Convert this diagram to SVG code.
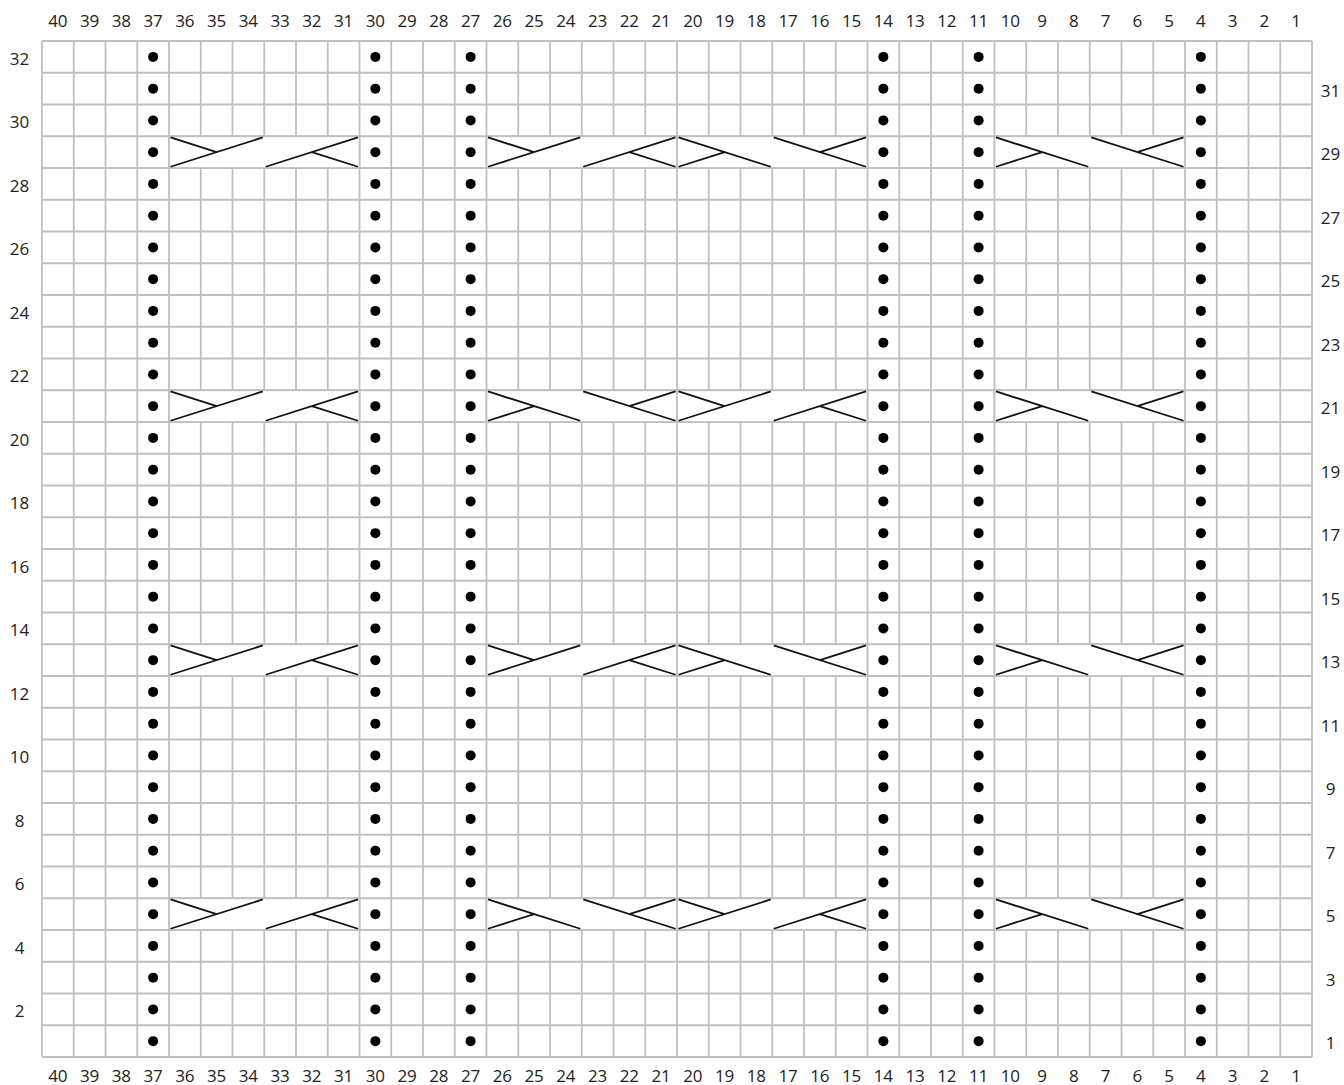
<svg xmlns="http://www.w3.org/2000/svg" xmlns:xlink="http://www.w3.org/1999/xlink" width="1344" height="1085" viewBox="0 0 1344 1085">
<style>
.grid{fill:none;stroke:#c0c0c0;stroke-width:1.8}
.box{fill:#fff;stroke:#c0c0c0;stroke-width:1.8}
.cab{fill:none;stroke:#111;stroke-width:1.8}
.lbl{font-family:"Open Sans","Noto Sans","Liberation Sans",sans-serif;font-size:17px;fill:#222;text-anchor:middle}
</style>
<defs>
<g id="dc">
<circle cx="0" cy="56.875" r="5"/><circle cx="0" cy="88.625" r="5"/><circle cx="0" cy="120.375" r="5"/><circle cx="0" cy="152.125" r="5"/>
<circle cx="0" cy="183.875" r="5"/><circle cx="0" cy="215.625" r="5"/><circle cx="0" cy="247.375" r="5"/><circle cx="0" cy="279.125" r="5"/>
<circle cx="0" cy="310.875" r="5"/><circle cx="0" cy="342.625" r="5"/><circle cx="0" cy="374.375" r="5"/><circle cx="0" cy="406.125" r="5"/>
<circle cx="0" cy="437.875" r="5"/><circle cx="0" cy="469.625" r="5"/><circle cx="0" cy="501.375" r="5"/><circle cx="0" cy="533.125" r="5"/>
<circle cx="0" cy="564.875" r="5"/><circle cx="0" cy="596.625" r="5"/><circle cx="0" cy="628.375" r="5"/><circle cx="0" cy="660.125" r="5"/>
<circle cx="0" cy="691.875" r="5"/><circle cx="0" cy="723.625" r="5"/><circle cx="0" cy="755.375" r="5"/><circle cx="0" cy="787.125" r="5"/>
<circle cx="0" cy="818.875" r="5"/><circle cx="0" cy="850.625" r="5"/><circle cx="0" cy="882.375" r="5"/><circle cx="0" cy="914.125" r="5"/>
<circle cx="0" cy="945.875" r="5"/><circle cx="0" cy="977.625" r="5"/><circle cx="0" cy="1009.375" r="5"/><circle cx="0" cy="1041.125" r="5"/>
</g>
<path id="t1" class="cab" d="M1.5,30.5 L93.75,1.2 M1.5,1.2 L47.625,15.875"/>
<path id="t2" class="cab" d="M1.5,30.5 L93.75,1.2 M47.625,15.875 L93.75,30.5"/>
<path id="t3" class="cab" d="M1.5,1.2 L93.75,30.5 M1.5,30.5 L47.625,15.875"/>
<path id="t4" class="cab" d="M1.5,1.2 L93.75,30.5 M47.625,15.875 L93.75,1.2"/>
</defs>
<rect width="1344" height="1085" fill="#fff"/>
<g id="grid">
<path class="grid" d="M42,41V1057M73.75,41V1057M105.5,41V1057M137.25,41V1057M169,41V1057M200.75,41V1057M232.5,41V1057M264.25,41V1057M296,41V1057M327.75,41V1057M359.5,41V1057M391.25,41V1057M423,41V1057M454.75,41V1057M486.5,41V1057M518.25,41V1057M550,41V1057M581.75,41V1057M613.5,41V1057M645.25,41V1057M677,41V1057M708.75,41V1057M740.5,41V1057M772.25,41V1057M804,41V1057M835.75,41V1057M867.5,41V1057M899.25,41V1057M931,41V1057M962.75,41V1057M994.5,41V1057M1026.25,41V1057M1058,41V1057M1089.75,41V1057M1121.5,41V1057M1153.25,41V1057M1185,41V1057M1216.75,41V1057M1248.5,41V1057M1280.25,41V1057M1312,41V1057"/>
<path class="grid" d="M42,41H1312M42,72.75H1312M42,104.5H1312M42,136.25H1312M42,168H1312M42,199.75H1312M42,231.5H1312M42,263.25H1312M42,295H1312M42,326.75H1312M42,358.5H1312M42,390.25H1312M42,422H1312M42,453.75H1312M42,485.5H1312M42,517.25H1312M42,549H1312M42,580.75H1312M42,612.5H1312M42,644.25H1312M42,676H1312M42,707.75H1312M42,739.5H1312M42,771.25H1312M42,803H1312M42,834.75H1312M42,866.5H1312M42,898.25H1312M42,930H1312M42,961.75H1312M42,993.5H1312M42,1025.25H1312M42,1057H1312"/>
</g>
<g id="cable-boxes">
<rect class="box" x="169" y="136.25" width="190.5" height="31.75"/><rect class="box" x="486.5" y="136.25" width="190.5" height="31.75"/><rect class="box" x="677" y="136.25" width="190.5" height="31.75"/><rect class="box" x="994.5" y="136.25" width="190.5" height="31.75"/>
<rect class="box" x="169" y="390.25" width="190.5" height="31.75"/><rect class="box" x="486.5" y="390.25" width="190.5" height="31.75"/><rect class="box" x="677" y="390.25" width="190.5" height="31.75"/><rect class="box" x="994.5" y="390.25" width="190.5" height="31.75"/>
<rect class="box" x="169" y="644.25" width="190.5" height="31.75"/><rect class="box" x="486.5" y="644.25" width="190.5" height="31.75"/><rect class="box" x="677" y="644.25" width="190.5" height="31.75"/><rect class="box" x="994.5" y="644.25" width="190.5" height="31.75"/>
<rect class="box" x="169" y="898.25" width="190.5" height="31.75"/><rect class="box" x="486.5" y="898.25" width="190.5" height="31.75"/><rect class="box" x="677" y="898.25" width="190.5" height="31.75"/><rect class="box" x="994.5" y="898.25" width="190.5" height="31.75"/>
</g>
<g id="cables">
<use xlink:href="#t1" href="#t1" x="169" y="136.25"/><use xlink:href="#t2" href="#t2" x="264.25" y="136.25"/><use xlink:href="#t1" href="#t1" x="486.5" y="136.25"/><use xlink:href="#t2" href="#t2" x="581.75" y="136.25"/><use xlink:href="#t3" href="#t3" x="677" y="136.25"/><use xlink:href="#t4" href="#t4" x="772.25" y="136.25"/><use xlink:href="#t3" href="#t3" x="994.5" y="136.25"/><use xlink:href="#t4" href="#t4" x="1089.75" y="136.25"/>
<use xlink:href="#t1" href="#t1" x="169" y="390.25"/><use xlink:href="#t2" href="#t2" x="264.25" y="390.25"/><use xlink:href="#t3" href="#t3" x="486.5" y="390.25"/><use xlink:href="#t4" href="#t4" x="581.75" y="390.25"/><use xlink:href="#t1" href="#t1" x="677" y="390.25"/><use xlink:href="#t2" href="#t2" x="772.25" y="390.25"/><use xlink:href="#t3" href="#t3" x="994.5" y="390.25"/><use xlink:href="#t4" href="#t4" x="1089.75" y="390.25"/>
<use xlink:href="#t1" href="#t1" x="169" y="644.25"/><use xlink:href="#t2" href="#t2" x="264.25" y="644.25"/><use xlink:href="#t1" href="#t1" x="486.5" y="644.25"/><use xlink:href="#t2" href="#t2" x="581.75" y="644.25"/><use xlink:href="#t3" href="#t3" x="677" y="644.25"/><use xlink:href="#t4" href="#t4" x="772.25" y="644.25"/><use xlink:href="#t3" href="#t3" x="994.5" y="644.25"/><use xlink:href="#t4" href="#t4" x="1089.75" y="644.25"/>
<use xlink:href="#t1" href="#t1" x="169" y="898.25"/><use xlink:href="#t2" href="#t2" x="264.25" y="898.25"/><use xlink:href="#t3" href="#t3" x="486.5" y="898.25"/><use xlink:href="#t4" href="#t4" x="581.75" y="898.25"/><use xlink:href="#t1" href="#t1" x="677" y="898.25"/><use xlink:href="#t2" href="#t2" x="772.25" y="898.25"/><use xlink:href="#t3" href="#t3" x="994.5" y="898.25"/><use xlink:href="#t4" href="#t4" x="1089.75" y="898.25"/>
</g>
<g id="purl-dots" fill="#000">
<use xlink:href="#dc" href="#dc" x="153.125"/><use xlink:href="#dc" href="#dc" x="375.375"/><use xlink:href="#dc" href="#dc" x="470.625"/><use xlink:href="#dc" href="#dc" x="883.375"/><use xlink:href="#dc" href="#dc" x="978.625"/><use xlink:href="#dc" href="#dc" x="1200.875"/>
</g>
<g id="top-labels">
<text class="lbl" x="57.875" y="27">40</text><text class="lbl" x="89.625" y="27">39</text><text class="lbl" x="121.375" y="27">38</text><text class="lbl" x="153.125" y="27">37</text><text class="lbl" x="184.875" y="27">36</text><text class="lbl" x="216.625" y="27">35</text><text class="lbl" x="248.375" y="27">34</text><text class="lbl" x="280.125" y="27">33</text><text class="lbl" x="311.875" y="27">32</text><text class="lbl" x="343.625" y="27">31</text>
<text class="lbl" x="375.375" y="27">30</text><text class="lbl" x="407.125" y="27">29</text><text class="lbl" x="438.875" y="27">28</text><text class="lbl" x="470.625" y="27">27</text><text class="lbl" x="502.375" y="27">26</text><text class="lbl" x="534.125" y="27">25</text><text class="lbl" x="565.875" y="27">24</text><text class="lbl" x="597.625" y="27">23</text><text class="lbl" x="629.375" y="27">22</text><text class="lbl" x="661.125" y="27">21</text>
<text class="lbl" x="692.875" y="27">20</text><text class="lbl" x="724.625" y="27">19</text><text class="lbl" x="756.375" y="27">18</text><text class="lbl" x="788.125" y="27">17</text><text class="lbl" x="819.875" y="27">16</text><text class="lbl" x="851.625" y="27">15</text><text class="lbl" x="883.375" y="27">14</text><text class="lbl" x="915.125" y="27">13</text><text class="lbl" x="946.875" y="27">12</text><text class="lbl" x="978.625" y="27">11</text>
<text class="lbl" x="1010.375" y="27">10</text><text class="lbl" x="1042.125" y="27">9</text><text class="lbl" x="1073.875" y="27">8</text><text class="lbl" x="1105.625" y="27">7</text><text class="lbl" x="1137.375" y="27">6</text><text class="lbl" x="1169.125" y="27">5</text><text class="lbl" x="1200.875" y="27">4</text><text class="lbl" x="1232.625" y="27">3</text><text class="lbl" x="1264.375" y="27">2</text><text class="lbl" x="1296.125" y="27">1</text>
</g>
<g id="bottom-labels">
<text class="lbl" x="57.875" y="1082">40</text><text class="lbl" x="89.625" y="1082">39</text><text class="lbl" x="121.375" y="1082">38</text><text class="lbl" x="153.125" y="1082">37</text><text class="lbl" x="184.875" y="1082">36</text><text class="lbl" x="216.625" y="1082">35</text><text class="lbl" x="248.375" y="1082">34</text><text class="lbl" x="280.125" y="1082">33</text><text class="lbl" x="311.875" y="1082">32</text><text class="lbl" x="343.625" y="1082">31</text>
<text class="lbl" x="375.375" y="1082">30</text><text class="lbl" x="407.125" y="1082">29</text><text class="lbl" x="438.875" y="1082">28</text><text class="lbl" x="470.625" y="1082">27</text><text class="lbl" x="502.375" y="1082">26</text><text class="lbl" x="534.125" y="1082">25</text><text class="lbl" x="565.875" y="1082">24</text><text class="lbl" x="597.625" y="1082">23</text><text class="lbl" x="629.375" y="1082">22</text><text class="lbl" x="661.125" y="1082">21</text>
<text class="lbl" x="692.875" y="1082">20</text><text class="lbl" x="724.625" y="1082">19</text><text class="lbl" x="756.375" y="1082">18</text><text class="lbl" x="788.125" y="1082">17</text><text class="lbl" x="819.875" y="1082">16</text><text class="lbl" x="851.625" y="1082">15</text><text class="lbl" x="883.375" y="1082">14</text><text class="lbl" x="915.125" y="1082">13</text><text class="lbl" x="946.875" y="1082">12</text><text class="lbl" x="978.625" y="1082">11</text>
<text class="lbl" x="1010.375" y="1082">10</text><text class="lbl" x="1042.125" y="1082">9</text><text class="lbl" x="1073.875" y="1082">8</text><text class="lbl" x="1105.625" y="1082">7</text><text class="lbl" x="1137.375" y="1082">6</text><text class="lbl" x="1169.125" y="1082">5</text><text class="lbl" x="1200.875" y="1082">4</text><text class="lbl" x="1232.625" y="1082">3</text><text class="lbl" x="1264.375" y="1082">2</text><text class="lbl" x="1296.125" y="1082">1</text>
</g>
<g id="left-labels">
<text class="lbl" x="19.5" y="64.875">32</text><text class="lbl" x="19.5" y="128.375">30</text><text class="lbl" x="19.5" y="191.875">28</text><text class="lbl" x="19.5" y="255.375">26</text><text class="lbl" x="19.5" y="318.875">24</text><text class="lbl" x="19.5" y="382.375">22</text><text class="lbl" x="19.5" y="445.875">20</text><text class="lbl" x="19.5" y="509.375">18</text>
<text class="lbl" x="19.5" y="572.875">16</text><text class="lbl" x="19.5" y="636.375">14</text><text class="lbl" x="19.5" y="699.875">12</text><text class="lbl" x="19.5" y="763.375">10</text><text class="lbl" x="19.5" y="826.875">8</text><text class="lbl" x="19.5" y="890.375">6</text><text class="lbl" x="19.5" y="953.875">4</text><text class="lbl" x="19.5" y="1017.375">2</text>
</g>
<g id="right-labels">
<text class="lbl" x="1330.5" y="96.625">31</text><text class="lbl" x="1330.5" y="160.125">29</text><text class="lbl" x="1330.5" y="223.625">27</text><text class="lbl" x="1330.5" y="287.125">25</text><text class="lbl" x="1330.5" y="350.625">23</text><text class="lbl" x="1330.5" y="414.125">21</text><text class="lbl" x="1330.5" y="477.625">19</text><text class="lbl" x="1330.5" y="541.125">17</text>
<text class="lbl" x="1330.5" y="604.625">15</text><text class="lbl" x="1330.5" y="668.125">13</text><text class="lbl" x="1330.5" y="731.625">11</text><text class="lbl" x="1330.5" y="795.125">9</text><text class="lbl" x="1330.5" y="858.625">7</text><text class="lbl" x="1330.5" y="922.125">5</text><text class="lbl" x="1330.5" y="985.625">3</text><text class="lbl" x="1330.5" y="1049.125">1</text>
</g>
</svg>
